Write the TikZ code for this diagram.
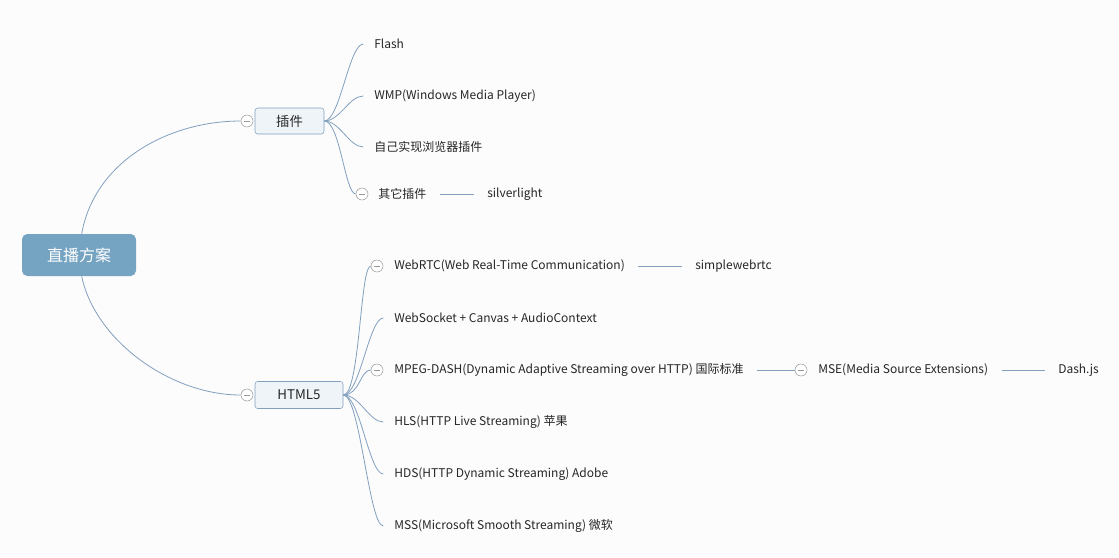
\documentclass[tikz,border=0pt]{standalone}
\usepackage{fontspec}
\setmainfont{Noto Sans CJK SC}
\usetikzlibrary{calc}
\begin{document}
\begin{tikzpicture}[x=0.75pt,y=-0.75pt,
  every node/.style={font=\fontsize{9}{11}\selectfont,text=black!85,inner sep=0pt},
  leaf/.style={anchor=west},
  con/.style={line width=0.6pt,draw={rgb,255:red,130;green,160;blue,190}},
  mini/.style={circle,draw=gray!80,fill=white,minimum size=9pt,inner sep=0pt,path picture={\draw[gray!80] ([xshift=-2.5pt]path picture bounding box.center)--([xshift=2.5pt]path picture bounding box.center);}},
  sub/.style={draw={rgb,255:red,130;green,160;blue,190},fill={rgb,255:red,239;green,244;blue,249},rounded corners=2pt,font=\fontsize{10}{12}\selectfont}]
\useasboundingbox[fill={rgb,255:red,252;green,252;blue,253}] (0,0) rectangle (1119,557);
\node[fill={rgb,255:red,117;green,163;blue,194},rounded corners=4pt,minimum width=114*0.75pt,minimum height=42*0.75pt,text=white,font=\fontsize{12}{14}\selectfont] (root) at (79,255) {直播方案};
\node[sub,minimum width=69*0.75pt,minimum height=26*0.75pt] (cj) at (289.5,121) {插件};
\node[sub,minimum width=88*0.75pt,minimum height=27*0.75pt] (h5) at (299,395) {HTML5};
\node[mini] (mcj) at (247,121) {};
\node[mini] (mh5) at (247,395) {};
\draw[con] ([xshift=2pt]root.north) .. controls (95,160) and (170,121) .. (mcj.west);
\draw[con] ([xshift=2pt]root.south) .. controls (95,340) and (170,395) .. (mh5.west);
% plugin leaves
\node[leaf] (flash) at (374,44) {Flash};
\node[leaf] (wmp) at (374,96) {WMP(Windows Media Player)};
\node[leaf] (zj) at (374,147) {自己实现浏览器插件};
\node[mini] (mqt) at (362,194) {};
\node[leaf] (qt) at (378,194) {其它插件};
\node[leaf] (sl) at (487,194) {silverlight};
\foreach \n in {flash,wmp,zj}{
  \draw[con] (cj.east) .. controls (340,121) and ($(\n.west)+(-25,0)$) .. ([xshift=-8pt]\n.west);}
\draw[con] (cj.east) .. controls (340,121) and (345,194) .. (mqt.west);
\draw[con] ([xshift=10pt]qt.east) -- ([xshift=-10pt]sl.west);
% html5 leaves
\node[mini] (mrtc) at (377,266) {};
\node[leaf] (rtc) at (394,266) {WebRTC(Web Real-Time Communication)};
\node[leaf] (swr) at (695,266) {simplewebrtc};
\node[leaf] (ws) at (394,318) {WebSocket + Canvas + AudioContext};
\node[mini] (mdash) at (377,370) {};
\node[leaf] (dash) at (394,370) {MPEG-DASH(Dynamic Adaptive Streaming over HTTP) 国际标准};
\node[mini] (mmse) at (801,370) {};
\node[leaf] (mse) at (818,370) {MSE(Media Source Extensions)};
\node[leaf] (djs) at (1058,370) {Dash.js};
\node[leaf] (hls) at (394,422) {HLS(HTTP Live Streaming) 苹果};
\node[leaf] (hds) at (394,474) {HDS(HTTP Dynamic Streaming) Adobe};
\node[leaf] (mss) at (394,526) {MSS(Microsoft Smooth Streaming) 微软};
\draw[con] (h5.east) .. controls (360,395) and (360,266) .. (mrtc.west);
\draw[con] (h5.east) .. controls (360,395) and (360,370) .. (mdash.west);
\foreach \n in {ws,hls,hds,mss}{
  \draw[con] (h5.east) .. controls (360,395) and ($(\n.west)+(-25,0)$) .. ([xshift=-8pt]\n.west);}
\draw[con] ([xshift=10pt]rtc.east) -- ([xshift=-10pt]swr.west);
\draw[con] ([xshift=10pt]dash.east) -- (mmse.west);
\draw[con] ([xshift=10pt]mse.east) -- ([xshift=-10pt]djs.west);
\end{tikzpicture}
\end{document}
